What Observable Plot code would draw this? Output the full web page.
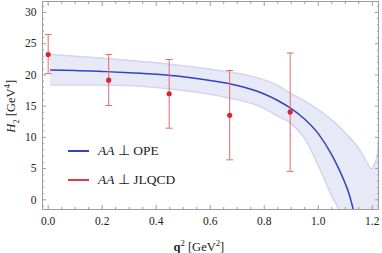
<!DOCTYPE html>
<html><head><meta charset="utf-8">
<script src="https://cdn.jsdelivr.net/npm/d3@7"></script>
<script src="https://cdn.jsdelivr.net/npm/@observablehq/plot@0.6"></script>
<style>
body{margin:0;background:#fff;}
#wrap{position:relative;width:382px;height:253px;font-family:'Liberation Serif',serif;color:#222;}
#wrap svg{position:absolute;left:0;top:0;}
#wrap svg text{font-family:'Liberation Serif',serif;}
.lab{position:absolute;white-space:nowrap;font-size:12.5px;line-height:1;font-family:'Liberation Serif',serif;}
.leg{position:absolute;left:68px;white-space:nowrap;font-size:13.5px;line-height:1;display:flex;align-items:center;font-family:'Liberation Serif',serif;}
.sw{display:inline-block;width:21px;height:2px;margin-right:9px;}
sub,sup{font-size:70%;line-height:0;}
</style></head><body><div id="wrap"></div>
<script>
// Lattice points (JLQCD)
const ptQ  = [0, 0.224, 0.448, 0.672, 0.896];
const ptH  = [23.25, 19.15, 16.98, 13.54, 14.07];
const ptLo = [20.2, 15.1, 11.47, 6.4, 4.56];
const ptHi = [26.45, 23.25, 22.46, 20.7, 23.5];

// OPE central curve
const opeQ = [0.009, 0.1, 0.2, 0.3, 0.4, 0.5, 0.6, 0.7, 0.75, 0.8, 0.85, 0.9, 0.95, 1.0, 1.05, 1.08, 1.1, 1.113, 1.13, 1.15];
const opeH = [20.8, 20.72, 20.55, 20.35, 20.1, 19.7, 19.1, 18.3, 17.7, 16.95, 15.9, 14.6, 12.9, 10.6, 7.2, 4.6, 2.6, 1.1, -1.6, -5];

// OPE uncertainty band
const bandQ  = [0.009, 0.1, 0.2, 0.3, 0.4, 0.5, 0.6, 0.7, 0.75, 0.8, 0.85, 0.9, 0.95, 1.0, 1.05, 1.08, 1.1, 1.15, 1.17, 1.19, 1.197, 1.21, 1.218, 1.223];
const bandHi = [23.25, 23.0, 22.65, 22.3, 21.95, 21.45, 20.9, 20.25, 19.8, 19.2, 18.3, 17.0, 15.8, 14.4, 12.8, 11.6, 10.7, 8.2, 6.8, 5.3, 4.9, 5.9, 7.06, 9.0];
const bandLo = [18.4, 18.4, 18.4, 18.3, 18.0, 17.5, 16.9, 16.0, 15.5, 14.6, 13.4, 12.2, 9.8, 5.5, 0.6, -1.9, -4, -9, -11, -13, -14, -15, -16, -17];

// ticks
const xMajor = [0, 0.2, 0.4, 0.6, 0.8, 1.0, 1.2];
const yMajor = [0, 5, 10, 15, 20, 25, 30];
const xMinor = d3.range(0, 1.2001, 0.05).filter(v => Math.abs(v / 0.2 - Math.round(v / 0.2)) > 1e-6);
const yMinor = d3.range(-1, 31.5, 1).filter(v => v % 5 !== 0);

const pts = ptQ.map((q, i) => ({q, h: ptH[i], lo: ptLo[i], hi: ptHi[i]}));
const ope = opeQ.map((q, i) => ({q, h: opeH[i]}));
const band = bandQ.map((q, i) => ({q, lo: bandLo[i], hi: bandHi[i]}));

const RED = "#d9262e", REDBAR = "#e36b6e", BLUE = "#3342c1", FRAME = "#9d9d9d";
const cap = {draw(ctx) { ctx.moveTo(-3.5, 0); ctx.lineTo(3.5, 0); }};

const chart = Plot.plot({
  width: 382, height: 253,
  marginLeft: 42, marginRight: 4, marginTop: 1, marginBottom: 44,
  x: {domain: [-0.021, 1.223]},
  y: {domain: [-1.55, 31.75]},
  style: {fontFamily: "'Liberation Serif', serif", fontSize: "11.5px", color: "#222", background: "transparent"},
  marks: [
    Plot.areaY(band, {x: "q", y1: "lo", y2: "hi", fill: "#e8e9f7", curve: "monotone-x", clip: true}),
    Plot.lineY(band, {x: "q", y: "hi", stroke: "#d2d5f0", curve: "monotone-x", clip: true}),
    Plot.lineY(band, {x: "q", y: "lo", stroke: "#d2d5f0", curve: "monotone-x", clip: true}),
    Plot.lineY(ope, {x: "q", y: "h", stroke: BLUE, strokeWidth: 1.5, curve: "monotone-x", clip: true}),
    Plot.ruleX(pts, {x: "q", y1: "lo", y2: "hi", stroke: REDBAR, strokeWidth: 1}),
    Plot.dot(pts, {x: "q", y: "lo", symbol: cap, r: 3, stroke: REDBAR, fill: "none", strokeWidth: 1}),
    Plot.dot(pts, {x: "q", y: "hi", symbol: cap, r: 3, stroke: REDBAR, fill: "none", strokeWidth: 1}),
    Plot.dot(pts, {x: "q", y: "h", fill: RED, r: 2.6}),
    Plot.frame({stroke: FRAME}),
    Plot.axisX(xMajor, {anchor: "bottom", tickSize: -4, tickPadding: 11, stroke: FRAME, fill: "#222", tickFormat: d3.format(".1f"), label: null}),
    Plot.axisX(xMinor, {anchor: "bottom", tickSize: -2, stroke: FRAME, fill: "none"}),
    Plot.axisX(xMajor, {anchor: "top", tickSize: -4, stroke: FRAME, fill: "none"}),
    Plot.axisX(xMinor, {anchor: "top", tickSize: -2, stroke: FRAME, fill: "none"}),
    Plot.axisY(yMajor, {anchor: "left", tickSize: -4, tickPadding: 10, stroke: FRAME, fill: "#222", label: null}),
    Plot.axisY(yMinor, {anchor: "left", tickSize: -2, stroke: FRAME, fill: "none"}),
    Plot.axisY(yMajor, {anchor: "right", tickSize: -4, stroke: FRAME, fill: "none"}),
    Plot.axisY(yMinor, {anchor: "right", tickSize: -2, stroke: FRAME, fill: "none"})
  ]
});
const wrap = document.getElementById("wrap");
wrap.appendChild(chart);

function add(html, cls, style) {
  const d = document.createElement("div");
  d.className = cls; d.innerHTML = html; d.setAttribute("style", style);
  wrap.appendChild(d);
  return d;
}
add(`<span class="sw" style="background:${BLUE}"></span><i>AA</i>&nbsp;⊥&nbsp;OPE`, "leg", "top:144px;");
add(`<span class="sw" style="background:#e0393f"></span><i>AA</i>&nbsp;⊥&nbsp;JLQCD`, "leg", "top:173px;");
const xl = add(`<b>q</b><sup>2</sup> [GeV<sup>2</sup>]`, "lab", "left:0;top:0;");
xl.style.left = (199 - xl.offsetWidth / 2) + "px";
xl.style.top = (247 - xl.offsetHeight / 2) + "px";
const yl = add(`<i>H</i><sub>2</sub> [GeV<sup>4</sup>]`, "lab", "left:0;top:0;");
yl.style.left = (11 - yl.offsetWidth / 2) + "px";
yl.style.top = (106 - yl.offsetHeight / 2) + "px";
yl.style.transform = "rotate(-90deg)";
</script>
</body></html>
